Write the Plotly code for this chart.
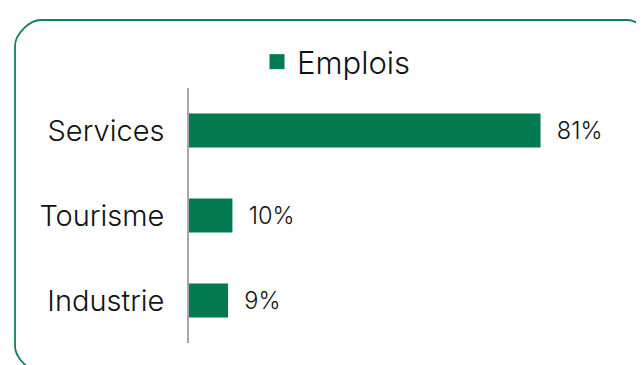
import plotly.graph_objects as go

# data
categories = ["Services", "Tourisme", "Industrie"]
emplois = [81, 10, 9]
series_name = "Emplois"

# the page body adds an 8px margin, so the figure is laid out 8px in
OFF = 8
W, H = 644 - OFF, 365 - OFF
L, R, T, B = 181, 21, 80, 22
green = "#007A4E"
font = "Inter"
ink = "#111111"


def to_paper(px, py):
    # page pixel -> paper coords
    fx, fy = px - OFF, py - OFF
    return (fx - L) / (W - L - R), (H - B - fy) / (H - T - B)


def rounded_path(x0, y0, x1, y1, r):
    k = 0.45 * r

    def p(x, y):
        a, b = to_paper(x, y)
        return f"{a:.5f},{b:.5f}"

    return " ".join([
        f"M{p(x0 + r, y0)}",
        f"L{p(x1 - r, y0)}",
        f"C{p(x1 - r + k, y0)} {p(x1, y0 + r - k)} {p(x1, y0 + r)}",
        f"L{p(x1, y1 - r)}",
        f"C{p(x1, y1 - r + k)} {p(x1 - r + k, y1)} {p(x1 - r, y1)}",
        f"L{p(x0 + r, y1)}",
        f"C{p(x0 + r - k, y1)} {p(x0, y1 - r + k)} {p(x0, y1 - r)}",
        f"L{p(x0, y0 + r)}",
        f"C{p(x0, y0 + r - k)} {p(x0 + r - k, y0)} {p(x0 + r, y0)}",
        "Z",
    ])


fig = go.Figure()
fig.add_trace(go.Bar(
    y=categories,
    x=emplois,
    orientation="h",
    name=series_name,
    marker=dict(color=green, line=dict(width=0)),
    width=0.4,
    texttemplate="  %{x}%",
    textposition="outside",
    textfont=dict(size=23.5, color=ink, family=font, weight=300),
    cliponaxis=False,
    showlegend=False,
))
# legend entry with a bigger square
fig.add_trace(go.Scatter(
    x=[None], y=[None],
    mode="markers",
    name=series_name,
    marker=dict(symbol="square", size=15, color=green),
    showlegend=True,
))

fig.add_shape(
    type="path",
    xref="paper", yref="paper",
    path=rounded_path(15, 20, 653, 372, 26),
    line=dict(color="#138054", width=1.8),
    layer="below",
)

fig.update_layout(
    width=W, height=H,
    margin=dict(l=L, r=R, t=T, b=B),
    paper_bgcolor="white",
    plot_bgcolor="white",
    font=dict(family=font, color=ink, weight=300),
    showlegend=True,
    legend=dict(
        orientation="h",
        x=to_paper(257, 0)[0], xanchor="left",
        y=to_paper(0, 62)[1], yanchor="middle",
        font=dict(size=31, family=font, color=ink, weight=300),
        itemsizing="trace",
        bgcolor="rgba(0,0,0,0)",
    ),
)
fig.update_xaxes(range=[0, 100], visible=False, fixedrange=True)
fig.update_yaxes(
    autorange="reversed",
    showline=True, linecolor="#A6A6A6", linewidth=1.5,
    showgrid=False, ticks="",
    ticklabelstandoff=17,
    tickfont=dict(size=29, family=font, color=ink, weight=300),
)

fig.write_html("out.html")
